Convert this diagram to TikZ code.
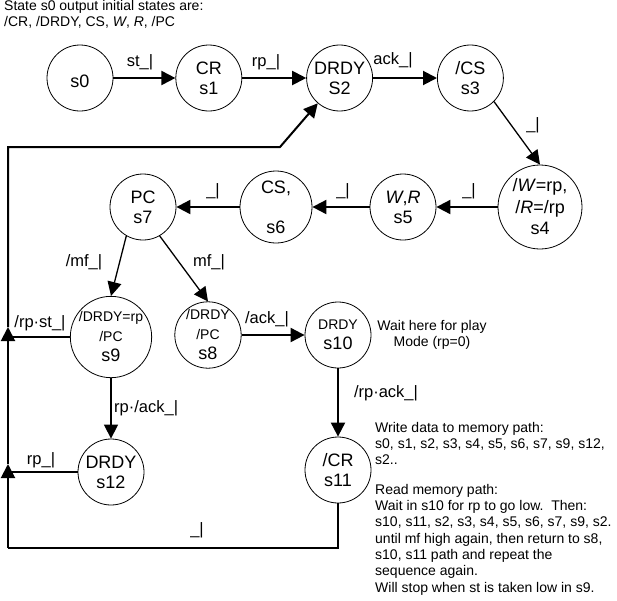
\documentclass[tikz,border=0pt]{standalone}
\usepackage{fontspec}
\setmainfont{Liberation Sans}
\usetikzlibrary{positioning,arrows.meta}
\tikzset{
  fsmstate/.style={draw, circle, line width=0.8pt, minimum size=66pt, inner sep=0pt, align=center,
    font=\fontsize{18}{20}\selectfont},
  fsmarrow/.style={-{Triangle[length=14pt,width=14pt]}, line width=2pt},
  fsmthin/.style={fsmarrow, line width=1.3pt},
  fsmline/.style={line width=2pt},
  fsmlabel/.style={font=\fontsize{16.5}{18}\selectfont, inner sep=0pt},
  fsmnote/.style={font=\fontsize{14}{16.3}\selectfont, align=left, inner sep=0pt},
}
\newcommand{\smalltxt}{\fontsize{14}{15.5}\selectfont}

\begin{document}
\begin{tikzpicture}[x=1pt, y=-1pt]
  \useasboundingbox (0,0) rectangle (617,600);
  % states, top row left to right
  \node[fsmstate] (s0) at (80,78) {\\s0};
  \node[fsmstate, right=62pt of s0] (s1) {CR\\s1};
  \node[fsmstate, right=64pt of s1] (s2) {DRDY\\S2};
  \node[fsmstate, right=64pt of s2] (s3) {/CS\\s3};
  % second row, right to left
  \node[fsmstate, minimum size=84pt, font=\fontsize{18}{21.5}\selectfont] (s4) at (540,207) {/\textit{W}=rp,\\/\textit{R}=/rp\\s4};
  \node[fsmstate] (s5) at (403,207) {\textit{W},\textit{R}\\s5};
  \node[fsmstate, minimum size=72pt] (s6) at (276,207) {CS,\\\\s6};
  \node[fsmstate] (s7) at (143,207) {PC\\s7};
  % lower part
  \node[fsmstate, minimum size=76pt] (s9) at (111,337) {{\smalltxt /DRDY=rp}\\{\smalltxt /PC}\\s9};
  \node[fsmstate] (s8) at (208,335) {{\smalltxt /DRDY}\\{\smalltxt /PC}\\s8};
  \node[fsmstate] (s10) at (338,335) {{\smalltxt DRDY}\\s10};
  \node[fsmstate] (s11) at (338,470) {/CR\\s11};
  \node[fsmstate] (s12) at (111,472) {DRDY\\s12};

  % return path along the left side
  \coordinate (loopbl) at (8,548);
  \coordinate (tip12) at (8,464);
  \coordinate (tip9) at (8,327);
  \coordinate (looptl) at (8,147);
  \coordinate (looptr) at (280,147);

  \draw[fsmarrow] (s0) -- (s1);
  \draw[fsmarrow] (s1) -- (s2);
  \draw[fsmarrow] (s2) -- (s3);
  \draw[fsmthin] (s3.315) -- (s4.north);
  \draw[fsmarrow] (s4) -- (s5);
  \draw[fsmarrow] (s5) -- (s6);
  \draw[fsmarrow] (s6) -- (s7);
  \draw[fsmthin] (s7.240) -- (s9.north);
  \draw[fsmthin] (s7.300) -- (s8.north);
  \draw[fsmarrow] (s8) -- (s10);
  \draw[fsmarrow] (s10) -- (s11);
  \draw[fsmthin] (s9) -- (s12);
  \draw[fsmline] (s11) |- (loopbl);
  \draw[fsmarrow] (loopbl) -- (tip12);
  \draw[fsmarrow] (tip12) -- (tip9);
  \draw[fsmarrow] (tip9) -- (looptl) -- (looptr) -- (s2);
  \draw[line width=1.2pt] (s9) -- (s9 -| tip9);
  \draw[fsmline] (s12) -- (s12 -| tip12);

  % transition labels
  \node[fsmlabel] (lst) at (140,62) {st\_|};
  \node[fsmlabel] (lrp) at (266,62) {rp\_|};
  \node[fsmlabel] (lack) at (393,60) {ack\_|};
  \node[fsmlabel] (l34) at (533,125) {\_|};
  \node[fsmlabel] (l45) at (469,191) {\_|};
  \node[fsmlabel] (l56) at (343,191) {\_|};
  \node[fsmlabel] (l67) at (213,191) {\_|};
  \node[fsmlabel] (lnmf) at (84,262) {/mf\_|};
  \node[fsmlabel] (lmf) at (209,262) {mf\_|};
  \node[fsmlabel] (lrpst) at (40,323) {/rp·st\_|};
  \node[fsmlabel] (lnack) at (267,319) {/ack\_|};
  \node[fsmlabel, anchor=west] (lrpnack) at (114,408) {rp·/ack\_|};
  \node[fsmlabel] (lrp12) at (41,460) {rp\_|};
  \node[fsmlabel] (lnrpack) at (386,393) {/rp·ack\_|};
  \node[fsmlabel] (lloop) at (197,530) {\_|};

  % notes
  \node[fsmnote, anchor=north west] (ninit) at (4,0) {State s0 output initial states are:\\/CR, /DRDY, CS, \textit{W}, \textit{R}, /PC};
  \node[fsmnote, align=center] (nwait) at (432,335) {Wait here for play\\Mode (rp=0)};
  \node[fsmnote, anchor=north west] (nwrite) at (375,422) {Write data to memory path:\\s0, s1, s2, s3, s4, s5, s6, s7, s9, s12,\\s2..};
  \node[fsmnote, anchor=north west] (nread) at (375,484) {Read memory path:\\Wait in s10 for rp to go low.\ \ Then:\\s10, s11, s2, s3, s4, s5, s6, s7, s9, s2.\\until mf high again, then return to s8,\\s10, s11 path and repeat the\\sequence again.\\Will stop when st is taken low in s9.};
\end{tikzpicture}
\end{document}
